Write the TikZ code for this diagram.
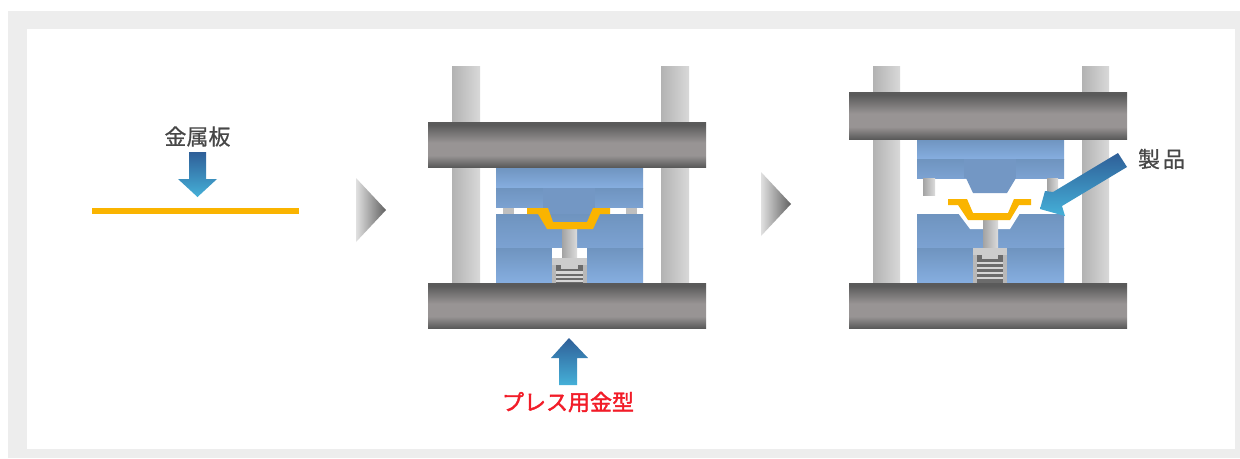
\documentclass[tikz,border=0pt]{standalone}
\usepackage{fontspec}
\newfontfamily\jpfont[FakeBold=0.6]{Noto Sans CJK JP}
\newfontfamily\jpred[FakeBold=2]{Noto Sans CJK JP}
\definecolor{plateedge}{HTML}{5A5A5A}
\definecolor{platemid}{HTML}{989494}
\definecolor{orangesheet}{HTML}{FAB400}
\definecolor{arrowdark}{HTML}{2F5F98}
\definecolor{arrowlight}{HTML}{45B0D8}
\definecolor{bluetop}{HTML}{6F94BF}
\definecolor{bluebot}{HTML}{86AEE0}
\definecolor{bluemid}{HTML}{7CA2D2}
\definecolor{punchblue}{HTML}{7397C4}
\definecolor{labelred}{HTML}{F21C28}
\pgfdeclareverticalshading{plateshade}{100bp}{
  color(0bp)=(plateedge); color(25bp)=(plateedge); color(38bp)=(platemid); color(52bp)=(platemid); color(72bp)=(plateedge); color(100bp)=(plateedge)}
\tikzset{
  plate/.style={shading=plateshade,draw=none},
  column/.style={left color=black!30,right color=black!15,draw=none},
  band/.style={top color=bluetop,bottom color=bluebot,draw=none},
  softband/.style={top color=bluetop,bottom color=bluemid,draw=none},
  punch/.style={fill=punchblue,draw=none},
  pinpiece/.style={left color=black!36,right color=black!14,draw=none},
  sheet/.style={fill=orangesheet,draw=none},
  capbox/.style={fill=black!20,draw=none},
  housing/.style={fill=black!28,draw=none},
  springbox/.style={fill=black!58,draw=none},
  springline/.style={fill=black!16,draw=none},
  flowdown/.style={top color=arrowdark,bottom color=arrowlight,draw=none},
  flowup/.style={top color=arrowdark,bottom color=arrowlight,draw=none},
  flowdiag/.style={shading angle=60,top color=arrowdark,bottom color=arrowlight,draw=none},
  stepmark/.style={left color=black!12,right color=black!62,draw=none},
  lbl/.style={font=\jpfont\fontsize{16.5}{16.5}\selectfont,text=black!72,inner sep=0pt},
  redlbl/.style={font=\jpred\fontsize{16.5}{16.5}\selectfont,text=labelred,inner sep=0pt},
}
\begin{document}
\begin{tikzpicture}[x=0.75pt,y=-0.75pt]
\useasboundingbox (0,0) rectangle (1240,458);
\fill[white] (0,0) rectangle (1240,458);
\fill[black!7] (8,11) rectangle (1240,458);
\fill[white] (27,29) rectangle (1235,449);

% flat sheet
\fill[orangesheet] (92,208) rectangle (299,214);
\shade[flowdown] (189,152) -- (206,152) -- (206,179) -- (217,179) -- (197.5,197) -- (178,179) -- (189,179) -- cycle;
\node[lbl] (metal) at (197.5,136.5) {金属板};

% step marks
\shade[stepmark] (356,178) -- (386,210) -- (356,242) -- cycle;
\shade[stepmark] (761,172) -- (791,204) -- (761,236) -- cycle;

% press 1
\shade[column] (452,66) rectangle (480,283);
\shade[column] (661,66) rectangle (689,283);
\shade[band] (496,167) rectangle (643,188);
\shade[softband] (496,188) rectangle (643,208);
\fill[punch] (543,188) rectangle (595,208);
\fill[punch] (543,208) -- (595,208) -- (587,224) -- (553,224) -- cycle;
\shade[softband] (496,214) rectangle (643,248);
\shade[band] (496,248) rectangle (643,283);
\fill[white] (496,208) rectangle (527,214);
\fill[white] (610,208) rectangle (643,214);
\fill[black!25] (503,208) rectangle (514,214);
\fill[black!25] (626,208) rectangle (637,214);
\fill[white] (552,248) rectangle (587,258);
\shade[pinpiece] (562,228) rectangle (577,259);
\fill[capbox] (552,258) rectangle (587,265);
\fill[housing] (552,265) rectangle (587,283);
\fill[springbox] (556,265) rectangle (583,283);
\fill[capbox] (561,265) rectangle (578,269);
\fill[springline] (556,271) rectangle (583,273.5);
\fill[springline] (556,276) rectangle (583,278);
\fill[springline] (556,280) rectangle (583,282);
\fill[sheet] (527,208) -- (548,208) -- (553,222) -- (587,222) -- (593,208) -- (610,208) -- (610,214) -- (600,214) -- (593,229) -- (547,229) -- (538,214) -- (527,214) -- cycle;
\shade[plate] (428,122) rectangle (706,167);
\shade[plate] (428,283) rectangle (706,328);

% press 2
\shade[column] (873,66) rectangle (900,283);
\shade[column] (1082,66) rectangle (1109,283);
\shade[band] (917,139) rectangle (1064,159);
\shade[softband] (917,159) rectangle (1064,178);
\fill[punch] (964,159) rectangle (1016,178);
\fill[punch] (966,178) -- (1016,178) -- (1007,193) -- (973,193) -- cycle;
\shade[pinpiece] (923,178) rectangle (935,195);
\shade[pinpiece] (1047,178) rectangle (1058,195);
\shade[softband] (917,214) rectangle (1064,248);
\shade[band] (917,248) rectangle (1064,283);
\fill[white] (958,213) -- (970,229) -- (1010,229) -- (1020,213) -- cycle;
\shade[pinpiece] (983,218) rectangle (998,249);
\fill[capbox] (973,248) rectangle (1007,255);
\fill[housing] (973,255) rectangle (1007,283);
\fill[springbox] (977,255) rectangle (1003,283);
\fill[capbox] (982,255) rectangle (998,259);
\fill[springline] (977,262) rectangle (1003,264);
\fill[springline] (977,267) rectangle (1003,269);
\fill[springline] (977,272) rectangle (1003,274);
\fill[springline] (977,277) rectangle (1003,279);
\fill[sheet] (948,199) -- (967,199) -- (973,213) -- (1008,213) -- (1014,199) -- (1031,199) -- (1031,205) -- (1019,205) -- (1010,220) -- (968,220) -- (958,205) -- (948,205) -- cycle;
\shade[plate] (849,92) rectangle (1127,139);
\shade[plate] (849,283) rectangle (1127,328);

% labelled arrows
\shade[flowup] (569,338) -- (588,358) -- (577,358) -- (577,385) -- (559,385) -- (559,358) -- (551,358) -- cycle;
\node[redlbl] (press) at (568,402) {プレス用金型};
\shade[flowdiag] (1118,153) -- (1127,167) -- (1062,206) -- (1065,216) -- (1040,209) -- (1045,191) -- (1053,192) -- cycle;
\node[lbl] (product) at (1161.5,159) {製\hspace{2.2pt}品};
\end{tikzpicture}
\end{document}
